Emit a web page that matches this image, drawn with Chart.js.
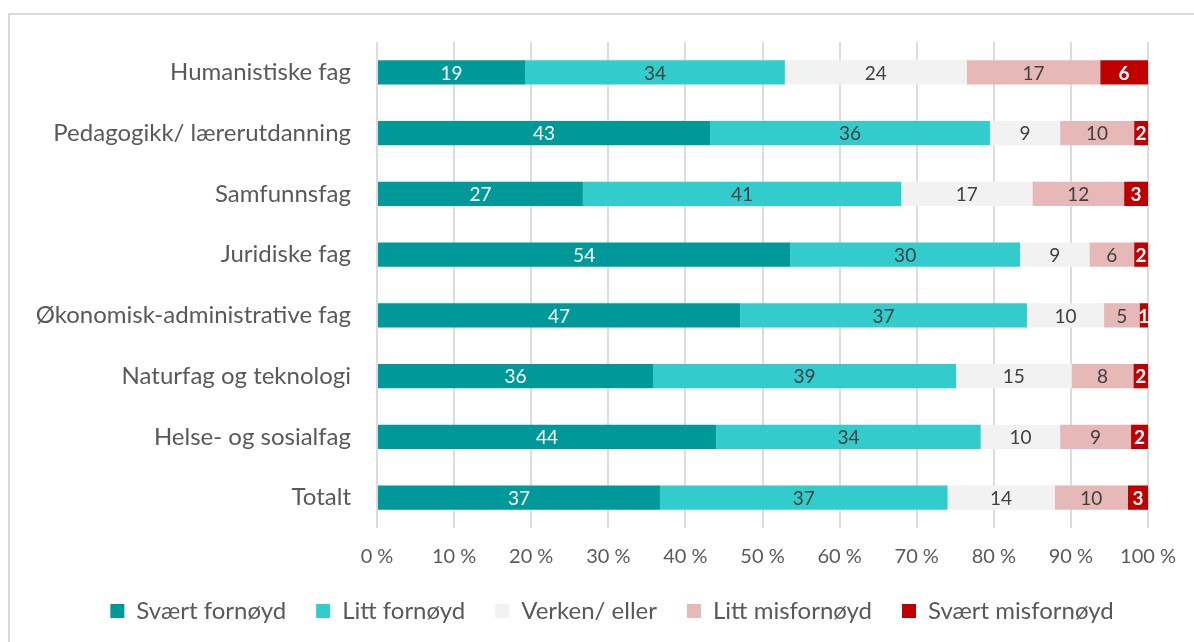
<!DOCTYPE html>
<html>
<head>
<meta charset="utf-8">
<script src="https://cdn.jsdelivr.net/npm/chart.js@4"></script>
<style>
  html, body { margin: 0; padding: 0; background: #fff; }
  #wrap { position: relative; width: 1194px; height: 642px; overflow: hidden; }
  #frame { position: absolute; left: 8px; top: 13px; width: 1200px; height: 660px; border: 2px solid #D9D9D9; box-sizing: border-box; }
  #box { position: absolute; left: 0; top: 0; width: 1194px; height: 642px; }
</style>
</head>
<body>
<div id="wrap">
  <div id="frame"></div>
  <div id="box"><canvas id="chart"></canvas></div>
</div>
<script>
// Categories and series (percent of respondents)
const categories = [
    'Humanistiske fag',
    'Pedagogikk/ lærerutdanning',
    'Samfunnsfag',
    'Juridiske fag',
    'Økonomisk-administrative fag',
    'Naturfag og teknologi',
    'Helse- og sosialfag',
    'Totalt'
];
const svaertFornoyd   = [19.2, 43.2, 26.7, 53.6, 47.1, 35.8, 44.0, 36.7];
const littFornoyd     = [33.7, 36.3, 41.3, 29.8, 37.2, 39.3, 34.3, 37.3];
const verkenEller     = [23.6,  9.1, 17.0,  9.0, 10.0, 15.0, 10.3, 13.9];
const littMisfornoyd  = [17.3,  9.6, 11.9,  5.8,  4.6,  8.0,  9.2,  9.5];
const svaertMisfornoyd = [6.2,  1.8,  3.1,  1.8,  1.1,  1.9,  2.2,  2.6];
const tickValues = [0, 10, 20, 30, 40, 50, 60, 70, 80, 90, 100];

const FONT = 'Lato, "Open Sans", sans-serif';

const series = [
    { label: 'Svært fornøyd', data: svaertFornoyd, color: '#009999', text: '#FFFFFF', bold: false },
    { label: 'Litt fornøyd', data: littFornoyd, color: '#33CCCC', text: '#404040', bold: false },
    { label: 'Verken/ eller', data: verkenEller, color: '#F2F2F2', text: '#404040', bold: false },
    { label: 'Litt misfornøyd', data: littMisfornoyd, color: '#E6B8B7', text: '#404040', bold: false },
    { label: 'Svært misfornøyd', data: svaertMisfornoyd, color: '#C00000', text: '#FFFFFF', bold: true }
];

// Draws the rounded value in the middle of each bar segment
const barLabels = {
    id: 'barLabels',
    afterDatasetsDraw(chart) {
        const ctx = chart.ctx;
        ctx.save();
        ctx.textAlign = 'center';
        ctx.textBaseline = 'middle';
        chart.data.datasets.forEach((ds, i) => {
            const meta = chart.getDatasetMeta(i);
            const s = series[i];
            ctx.font = (s.bold ? 'bold ' : '') + '19px ' + FONT;
            ctx.fillStyle = s.text;
            meta.data.forEach((bar, j) => {
                const cx = (bar.x + bar.base) / 2;
                ctx.fillText(String(Math.round(ds.data[j])), cx, bar.y + 1);
            });
        });
        ctx.restore();
    }
};

// Legend sits a bit right of the canvas centre in the original
const legendShift = {
    id: 'legendShift',
    afterLayout(chart) {
        chart.legend.left += 28;
        chart.legend.right += 28;
    }
};

new Chart(document.getElementById('chart'), {
    type: 'bar',
    data: {
        labels: categories,
        datasets: series.map(s => ({
            label: s.label,
            data: s.data,
            backgroundColor: s.color,
            borderWidth: 0,
            categoryPercentage: 1,
            barPercentage: 0.4
        }))
    },
    options: {
        indexAxis: 'y',
        responsive: true,
        maintainAspectRatio: false,
        animation: false,
        layout: { padding: { top: 42, right: 46, left: 20, bottom: 9 } },
        scales: {
            x: {
                stacked: true,
                min: 0,
                max: 100,
                afterBuildTicks: (scale) => { scale.ticks = tickValues.map(v => ({ value: v })); },
                afterFit: (scale) => { scale.height = 41; },
                ticks: {
                    callback: (v) => v + ' %',
                    color: '#595959',
                    font: { family: FONT, size: 20 },
                    padding: 17
                },
                grid: { color: '#DCDCDC', lineWidth: 2, drawTicks: false },
                border: { display: false }
            },
            y: {
                stacked: true,
                afterFit: (scale) => { scale.width = 357; },
                ticks: {
                    color: '#595959',
                    font: { family: FONT, size: 24 },
                    padding: 26
                },
                grid: { display: false, drawTicks: false },
                border: { display: false }
            }
        },
        plugins: {
            legend: {
                position: 'bottom',
                labels: {
                    color: '#595959',
                    font: { family: FONT, size: 24 },
                    boxWidth: 14,
                    boxHeight: 14,
                    padding: 30
                }
            },
            tooltip: { enabled: false }
        }
    },
    plugins: [barLabels, legendShift]
});
</script>
</body>
</html>
